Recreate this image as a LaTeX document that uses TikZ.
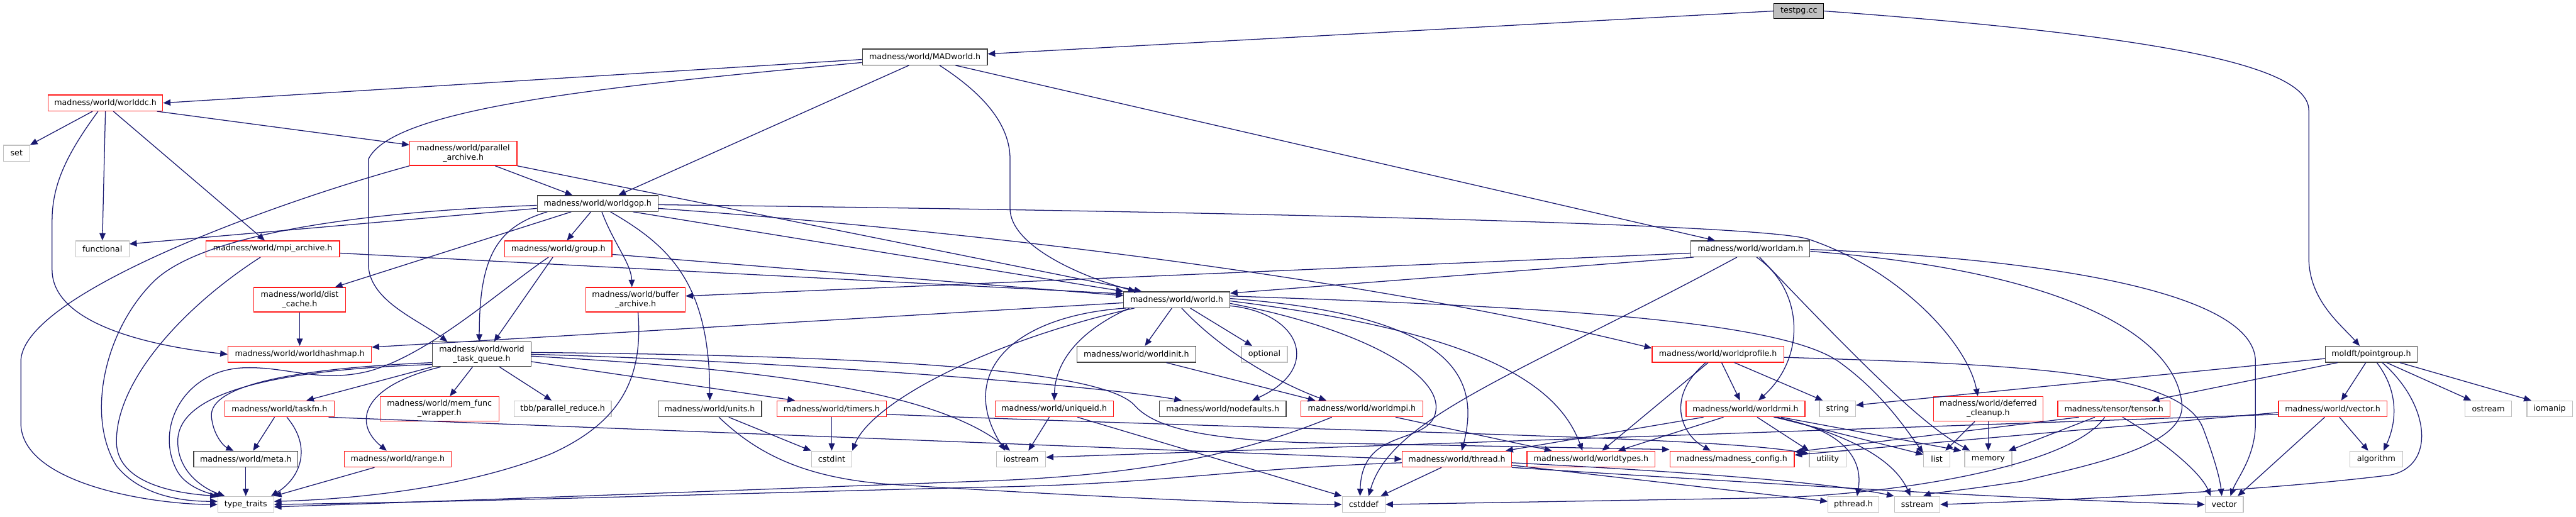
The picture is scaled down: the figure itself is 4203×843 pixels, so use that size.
\documentclass[tikz,border=0pt]{standalone}
\usepackage{fontspec}
\setmainfont{DejaVu Sans}
\usetikzlibrary{arrows.meta}
\definecolor{edgec}{HTML}{191970}
\definecolor{grayA}{HTML}{404040}
\definecolor{grayB}{HTML}{BFBFBF}
\definecolor{redA}{HTML}{FF1A1A}
\newcommand{\dfont}{\fontsize{13pt}{15.5pt}\selectfont}
\newcommand{\mknode}[6]{\node[#1, minimum width=#4pt, minimum height=#5pt] (#2) at (#3) {#6};}
\tikzset{
  base/.style={rectangle, inner sep=0pt, align=center, font=\dfont, line width=1.3pt, fill=white, text=black},
  blk/.style={base, draw=grayA},
  rnode/.style={base, draw=redA},
  sys/.style={base, draw=grayB},
  root/.style={base, draw=black, fill=grayB},
  edg/.style={draw=edgec, line width=1.3pt, -{Triangle[length=12pt,width=10pt]}}
}
\begin{document}
\begin{tikzpicture}[x=1pt,y=-1pt]
\fill[white] (0,0) rectangle (4203,843);
\useasboundingbox (0,0) rectangle (4203,843);

% ---------------- nodes ----------------
\mknode{root}{testpg}{2935,18}{81}{25}{testpg.cc}
\mknode{blk}{madworld}{1509,93}{204}{26}{madness/world/MADworld.h}
\mknode{rnode}{worlddc}{172,168}{187}{26}{madness/world/worlddc.h}
\mknode{sys}{set}{27,250}{43}{26}{set}
\mknode{rnode}{parch}{756,250}{175}{40}{madness/world/parallel\\\_archive.h}
\mknode{sys}{functional}{167,406}{87}{26}{functional}
\mknode{rnode}{mpiarch}{445,406}{218}{26}{madness/world/mpi\_archive.h}
\mknode{blk}{worldgop}{975,332}{197}{26}{madness/world/worldgop.h}
\mknode{rnode}{group}{911,406}{175}{26}{madness/world/group.h}
\mknode{blk}{worldam}{2856,406}{194}{26}{madness/world/worldam.h}
\mknode{rnode}{distcache}{489,489}{150}{40}{madness/world/dist\\\_cache.h}
\mknode{rnode}{bufarch}{1037,489}{162}{40}{madness/world/buffer\\\_archive.h}
\mknode{blk}{world}{1920,489}{173}{26}{madness/world/world.h}
\mknode{rnode}{hashmap}{489,578}{234}{26}{madness/world/worldhashmap.h}
\mknode{blk}{wtq}{786,578}{161}{40}{madness/world/world\\\_task\_queue.h}
\mknode{blk}{worldinit}{1854,578}{194}{26}{madness/world/worldinit.h}
\mknode{sys}{optional}{2063,578}{75}{26}{optional}
\mknode{rnode}{wprofile}{2803,578}{215}{26}{madness/world/worldprofile.h}
\mknode{blk}{pointgroup}{3869,578}{150}{26}{moldft/pointgroup.h}
\mknode{rnode}{taskfn}{456,667}{179}{26}{madness/world/taskfn.h}
\mknode{rnode}{memfunc}{717,667}{194}{40}{madness/world/mem\_func\\\_wrapper.h}
\mknode{sys}{tbb}{918,667}{159}{26}{tbb/parallel\_reduce.h}
\mknode{blk}{units}{1158,667}{169}{26}{madness/world/units.h}
\mknode{rnode}{timers}{1357,667}{178}{26}{madness/world/timers.h}
\mknode{rnode}{uniqueid}{1720,667}{193}{26}{madness/world/uniqueid.h}
\mknode{blk}{nodefaults}{1995,667}{207}{26}{madness/world/nodefaults.h}
\mknode{rnode}{worldmpi}{2222,667}{199}{26}{madness/world/worldmpi.h}
\mknode{rnode}{worldrmi}{2848,667}{194}{26}{madness/world/worldrmi.h}
\mknode{sys}{string}{2998,667}{59}{26}{string}
\mknode{rnode}{deferred}{3244,667}{179}{40}{madness/world/deferred\\\_cleanup.h}
\mknode{rnode}{tensor}{3449,667}{183}{26}{madness/tensor/tensor.h}
\mknode{rnode}{vectorh}{3806,667}{177}{26}{madness/world/vector.h}
\mknode{sys}{ostream}{4060,667}{76}{26}{ostream}
\mknode{sys}{iomanip}{4160,667}{74}{26}{iomanip}
\mknode{blk}{meta}{401,749}{170}{26}{madness/world/meta.h}
\mknode{rnode}{range}{649,749}{175}{26}{madness/world/range.h}
\mknode{sys}{cstdint}{1357,749}{66}{26}{cstdint}
\mknode{sys}{iostream}{1666,749}{80}{26}{iostream}
\mknode{rnode}{thread}{2377,749}{178}{26}{madness/world/thread.h}
\mknode{rnode}{worldtypes}{2596,749}{209}{26}{madness/world/worldtypes.h}
\mknode{rnode}{mconf}{2826,749}{203}{26}{madness/madness\_config.h}
\mknode{sys}{utility}{2982,749}{60}{26}{utility}
\mknode{sys}{list}{3160,749}{43}{26}{list}
\mknode{sys}{memory}{3244,749}{77}{26}{memory}
\mknode{sys}{algorithm}{3877,749}{86}{26}{algorithm}
\mknode{sys}{tt}{401,823}{91}{26}{type\_traits}
\mknode{sys}{cstddef}{2225,823}{70}{26}{cstddef}
\mknode{sys}{pthread}{3024,823}{83}{26}{pthread.h}
\mknode{sys}{sstream}{3128,823}{74}{26}{sstream}
\mknode{sys}{vector}{3629,823}{62}{26}{vector}

% ---------------- edges ----------------
% testpg.cc
\draw[edg] (testpg.west) -- ([yshift=5pt]madworld.east);
\draw[edg] (testpg.east) .. controls (3550,60) and (3767,110) .. (3767,180) -- (3767,420) .. controls (3767,490) and (3820,530) .. ([xshift=-19pt]pointgroup.north);

% MADworld.h
\draw[edg] ([yshift=-4pt]madworld.west) -- (worlddc.east);
\draw[edg] ([yshift=-9pt]madworld.west) .. controls (1000,140) and (640,175) .. (601,260) -- (601,430) .. controls (601,490) and (680,520) .. ([xshift=-56pt]wtq.north);
\draw[edg] ([xshift=-26pt]madworld.south) -- ([xshift=34pt]worldgop.north);
\draw[edg] ([xshift=24pt]madworld.south) .. controls (1600,150) and (1648,200) .. (1648,260) -- (1648,340) .. controls (1648,400) and (1760,450) .. ([xshift=20pt]world.north west);
\draw[edg] ([xshift=50pt]madworld.south) -- ([xshift=40pt]worldam.north west);

% worlddc.h
\draw[edg] ([xshift=-21pt]worlddc.south) -- (set.north east);
\draw[edg] (worlddc.south) -- (functional.north);
\draw[edg] ([xshift=13pt]worlddc.south) -- ([xshift=-13pt]mpiarch.north);
\draw[edg] ([xshift=-10pt]worlddc.south east) -- ([yshift=-7pt]parch.north west);
\draw[edg] ([xshift=-12pt]worlddc.south) .. controls (110,250) and (85,300) .. (85,360) -- (85,440) .. controls (85,530) and (250,565) .. (hashmap.west);

% parallel_archive.h
\draw[edg] ([xshift=52pt]parch.south) -- ([xshift=-41pt]worldgop.north);
\draw[edg] (parch.south east) -- ([xshift=30pt]world.north west);
\draw[edg] (parch.south west) .. controls (450,330) and (34,480) .. (34,590) -- (34,690) .. controls (34,790) and (250,823) .. (tt.west);

% mpi_archive.h
\draw[edg] ([yshift=-7pt]mpiarch.east) -- ([yshift=-4pt]world.north west);
\draw[edg] ([xshift=-20pt]mpiarch.south) .. controls (300,500) and (190,620) .. (190,720) .. controls (190,790) and (290,805) .. (tt.north west);

% worldgop.h
\draw[edg] ([yshift=-8pt]worldgop.west) -- ([yshift=8pt]functional.east);
\draw[edg] ([yshift=-3pt]worldgop.west) .. controls (600,345) and (330,380) .. (250,460) .. controls (170,540) and (140,680) .. (190,760) .. controls (230,810) and (300,818) .. ([yshift=5pt]tt.west);
\draw[edg] ([xshift=-43pt]worldgop.south) -- ([xshift=-18pt]distcache.north east);
\draw[edg] ([xshift=-82pt]worldgop.south) .. controls (810,370) and (782,420) .. ([xshift=-4pt]wtq.north);
\draw[edg] ([xshift=-11pt]worldgop.south) -- ([xshift=14pt]group.north);
\draw[edg] ([xshift=7pt]worldgop.south) .. controls (1000,395) and (1030,430) .. ([xshift=-6pt]bufarch.north);
\draw[edg] ([xshift=21pt]worldgop.south) .. controls (1090,400) and (1158,460) .. (units.north);
\draw[edg] ([xshift=58pt]worldgop.south) -- (world.north west);
\draw[edg] ([yshift=-8pt]worldgop.east) .. controls (1700,385) and (2300,470) .. ([yshift=10pt]wprofile.west);
\draw[edg] ([yshift=-2pt]worldgop.east) .. controls (2000,345) and (2870,365) .. (2950,390) .. controls (3100,440) and (3210,560) .. ([xshift=-17pt]deferred.north);

% group.h
\draw[edg] ([xshift=-9pt]group.south) -- ([xshift=20pt]wtq.north);
\draw[edg] ([xshift=-16pt]group.south) .. controls (820,470) and (700,580) .. (600,606) .. controls (520,625) and (470,598) .. (400,600) .. controls (300,602) and (250,700) .. (290,770) .. controls (305,795) and (340,805) .. ([xshift=6pt]tt.north west);
\draw[edg] ([yshift=-9pt]group.east) -- ([yshift=-7pt]world.north west);

% dist_cache.h, buffer_archive.h
\draw[edg] (distcache.south) -- (hashmap.north);
\draw[edg] ([xshift=4pt]bufarch.south) .. controls (1050,620) and (1010,690) .. (900,740) .. controls (750,800) and (560,815) .. ([yshift=5pt]tt.east);

% world_task_queue.h
\draw[edg] (wtq.south west) -- ([xshift=44pt]taskfn.north);
\draw[edg] ([yshift=7pt]wtq.south west) .. controls (500,600) and (340,625) .. (345,680) .. controls (348,710) and (365,728) .. ([xshift=-20pt]meta.north);
\draw[edg] ([yshift=4pt]wtq.south west) .. controls (450,603) and (290,640) .. (290,720) .. controls (290,775) and (340,800) .. ([xshift=12pt]tt.north west);
\draw[edg] ([xshift=14pt]wtq.south west) .. controls (590,630) and (575,690) .. ([xshift=-18pt]range.north);
\draw[edg] ([xshift=-15pt]wtq.south) -- ([xshift=17pt]memfunc.north);
\draw[edg] ([xshift=29pt]wtq.south) -- ([xshift=-18pt]tbb.north);
\draw[edg] ([yshift=-12pt]wtq.east) -- ([xshift=-60pt]timers.north);
\draw[edg] ([yshift=-3pt]wtq.east) .. controls (1200,600) and (1520,630) .. ([xshift=-18pt]iostream.north);
\draw[edg] (wtq.east) .. controls (1300,590) and (1800,630) .. ([xshift=-67pt]nodefaults.north);
\draw[edg] ([yshift=3pt]wtq.east) .. controls (1400,580) and (1790,600) .. (1850,660) .. controls (1880,695) and (1950,715) .. (2120,722) -- ([yshift=2pt]mconf.north west);

% taskfn.h, meta.h, range.h
\draw[edg] ([xshift=-8pt]taskfn.south) -- ([xshift=12pt]meta.north);
\draw[edg] ([xshift=12pt]taskfn.south) .. controls (510,730) and (490,780) .. ([xshift=-5pt]tt.north east);
\draw[edg] ([xshift=-10pt]taskfn.south east) -- (thread.west);
\draw[edg] (meta.south) -- (tt.north);
\draw[edg] ([xshift=-38pt]range.south) -- (tt.north east);

% units.h, timers.h
\draw[edg] ([xshift=31pt]units.south) -- (cstdint.north west);
\draw[edg] ([xshift=15pt]units.south) .. controls (1240,745) and (1320,780) .. (1450,790) .. controls (1800,812) and (2050,822) .. (cstddef.west);
\draw[edg] (timers.south) -- (cstdint.north);
\draw[edg] ([yshift=-9pt]timers.east) .. controls (2200,705) and (2800,712) .. ([yshift=-5pt]utility.north west);

% uniqueid.h
\draw[edg] ([xshift=-8pt]uniqueid.south) -- ([xshift=12pt]iostream.north);
\draw[edg] ([xshift=38pt]uniqueid.south) -- (cstddef.north west);

% world.h
\draw[edg] ([yshift=-5pt]world.west) -- ([yshift=-2pt]hashmap.north east);
\draw[edg] ([xshift=-8pt]world.south) -- ([xshift=14pt]worldinit.north);
\draw[edg] ([xshift=22pt]world.south) -- ([xshift=-20pt]optional.north);
\draw[edg] ([xshift=10pt]world.south west) .. controls (1760,540) and (1722,590) .. (uniqueid.north);
\draw[edg] ([xshift=5pt]world.south west) .. controls (1650,515) and (1560,610) .. ([xshift=-26pt]iostream.north);
\draw[edg] ([xshift=18pt]world.south west) .. controls (1600,560) and (1420,660) .. (cstdint.north east);
\draw[edg] ([yshift=-10pt]world.east) .. controls (2120,510) and (2160,600) .. ([xshift=48pt]nodefaults.north);
\draw[edg] ([xshift=8pt]world.south) .. controls (2000,580) and (2100,630) .. ([xshift=-58pt]worldmpi.north);
\draw[edg] ([yshift=2pt]world.east) .. controls (2380,515) and (2415,620) .. ([xshift=8pt]thread.north);
\draw[edg] ([yshift=-2pt]world.east) .. controls (2400,540) and (2540,620) .. ([xshift=-14pt]worldtypes.north);
\draw[edg] ([yshift=-6pt]world.east) .. controls (2240,540) and (2365,620) .. (2340,680) .. controls (2320,725) and (2222,700) .. ([xshift=-6pt]cstddef.north);
\draw[edg] ([yshift=6pt]world.east) .. controls (2500,500) and (2900,520) .. (3000,590) .. controls (3070,640) and (3110,700) .. ([yshift=-4pt]list.north west);

% worldam.h
\draw[edg] ([yshift=-7pt]worldam.west) -- ([yshift=6pt]bufarch.east);
\draw[edg] ([xshift=5pt]worldam.south west) -- ([yshift=-3pt]world.north east);
\draw[edg] ([xshift=-22pt]worldam.south) .. controls (2480,610) and (2270,680) .. ([xshift=8pt]cstddef.north);
\draw[edg] ([xshift=10pt]worldam.south) .. controls (2940,470) and (2950,580) .. ([xshift=21pt]worldrmi.north);
\draw[edg] ([xshift=15pt]worldam.south) .. controls (3080,640) and (3150,700) .. ([xshift=-30pt]memory.north);
\draw[edg] ([yshift=-1pt]worldam.east) .. controls (3300,420) and (3680,470) .. (3680,590) -- (3680,690) .. controls (3680,745) and (3650,780) .. ([xshift=10pt]vector.north);
\draw[edg] ([yshift=-4pt]worldam.east) .. controls (3350,440) and (3550,540) .. (3560,660) .. controls (3565,730) and (3400,760) .. (3300,785) .. controls (3200,800) and (3150,805) .. ([xshift=10pt]sstream.north);

% worldinit.h, worldmpi.h
\draw[edg] ([xshift=49pt]worldinit.south) -- ([xshift=-76pt]worldmpi.north);
\draw[edg] ([xshift=55pt]worldmpi.south) -- ([xshift=-64pt]worldtypes.north);
\draw[edg] ([xshift=-49pt]worldmpi.south) .. controls (2050,730) and (1900,775) .. (1600,785) .. controls (1200,800) and (800,815) .. ([yshift=-4pt]tt.east);

% thread.h
\draw[edg] ([yshift=-6pt]thread.west) .. controls (2000,765) and (1900,790) .. (1600,795) .. controls (1200,805) and (800,818) .. (tt.east);
\draw[edg] ([xshift=-25pt]thread.south) -- ([xshift=-8pt]cstddef.north east);
\draw[edg] ([yshift=-10pt]thread.east) -- ([yshift=5pt]pthread.west);
\draw[edg] ([yshift=-6pt]thread.east) .. controls (2800,772) and (3000,790) .. (sstream.north west);
\draw[edg] (thread.south east) .. controls (2900,790) and (3300,815) .. (vector.west);

% worldprofile.h
\draw[edg] ([xshift=6pt]wprofile.south) -- ([xshift=-9pt]worldrmi.north);
\draw[edg] ([xshift=27pt]wprofile.south) -- ([xshift=-24pt]string.north);
\draw[edg] ([xshift=-16pt]wprofile.south) -- ([xshift=18pt]worldtypes.north);
\draw[edg] ([xshift=-20pt]wprofile.south) .. controls (2715,650) and (2745,710) .. ([xshift=-35pt]mconf.north);
\draw[edg] ([yshift=-5pt]wprofile.east) .. controls (3300,595) and (3560,605) .. (3595,700) .. controls (3612,745) and (3622,780) .. ([xshift=-4pt]vector.north);

% worldrmi.h
\draw[edg] ([xshift=-36pt]worldrmi.south) -- ([xshift=44pt]worldtypes.north);
\draw[edg] ([xshift=29pt]worldrmi.south west) -- ([xshift=-10pt]thread.north east);
\draw[edg] ([xshift=19pt]worldrmi.south) -- (utility.north west);
\draw[edg] ([xshift=48pt]worldrmi.south) -- ([yshift=-6pt]list.north west);
\draw[edg] ([xshift=58pt]worldrmi.south) -- ([xshift=-5pt]memory.north west);
\draw[edg] ([xshift=46pt]worldrmi.south) .. controls (3010,700) and (3040,750) .. ([xshift=6pt]pthread.north);
\draw[edg] ([xshift=52pt]worldrmi.south) .. controls (3040,715) and (3095,760) .. ([xshift=-11pt]sstream.north);

% deferred_cleanup.h
\draw[edg] ([xshift=-22pt]deferred.south) -- ([xshift=14pt]list.north);
\draw[edg] (deferred.south) -- (memory.north);

% tensor.h
\draw[edg] ([xshift=-31pt]tensor.south) -- ([xshift=33pt]memory.north);
\draw[edg] ([xshift=35pt]tensor.south west) -- ([yshift=-2pt]mconf.north east);
\draw[edg] ([xshift=-15pt]tensor.south) .. controls (3380,760) and (3100,805) .. (2900,812) -- (cstddef.east);
\draw[edg] ([xshift=14pt]tensor.south) .. controls (3530,720) and (3590,770) .. ([xshift=-22pt]vector.north);

% vector.h
\draw[edg] ([yshift=-6pt]vectorh.west) -- ([yshift=-7pt]mconf.north east);
\draw[edg] ([yshift=-9pt]vectorh.west) -- ([yshift=3pt]iostream.east);
\draw[edg] ([xshift=-13pt]vectorh.south) -- ([xshift=22pt]vector.north);
\draw[edg] ([xshift=11pt]vectorh.south) -- ([xshift=-13pt]algorithm.north);

% pointgroup.h
\draw[edg] ([xshift=-9pt]pointgroup.south) -- ([xshift=14pt]vectorh.north);
\draw[edg] ([xshift=9pt]pointgroup.south) .. controls (3915,640) and (3910,690) .. ([xshift=12pt]algorithm.north);
\draw[edg] ([xshift=18pt]pointgroup.south) .. controls (3965,660) and (3975,760) .. (3900,775) .. controls (3700,800) and (3400,815) .. (sstream.east);
\draw[edg] ([xshift=25pt]pointgroup.south) -- ([xshift=-28pt]ostream.north);
\draw[edg] ([xshift=-29pt]pointgroup.south east) -- ([xshift=-30pt]iomanip.north);
\draw[edg] ([yshift=-7pt]pointgroup.west) -- ([yshift=6pt]string.east);
\draw[edg] ([xshift=-55pt]pointgroup.south) -- ([xshift=62pt]tensor.north);
\end{tikzpicture}
\end{document}
